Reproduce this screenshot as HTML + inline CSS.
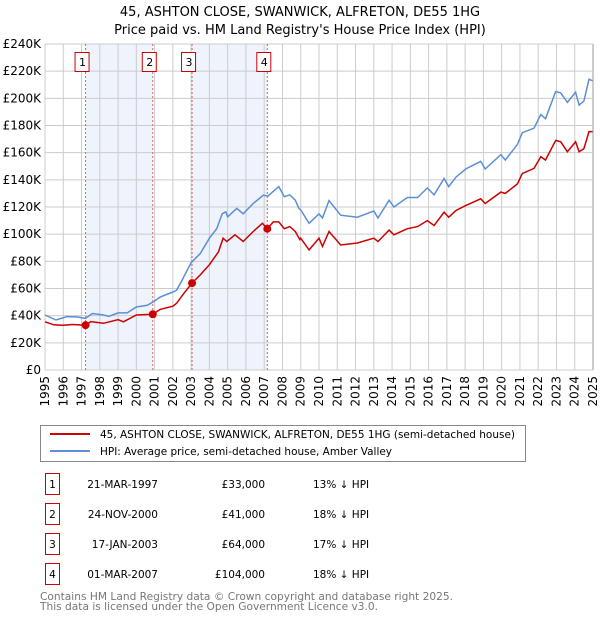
<!DOCTYPE html>
<html><head><meta charset="utf-8"><style>
body{margin:0;background:#fff;font-family:"DejaVu Sans","Liberation Sans",sans-serif;}
svg text{font-family:"DejaVu Sans","Liberation Sans",sans-serif;}
</style></head><body>
<svg id="c" width="600" height="620" xmlns="http://www.w3.org/2000/svg">
<text x="300" y="16" text-anchor="middle" font-size="13">45, ASHTON CLOSE, SWANWICK, ALFRETON, DE55 1HG</text>
<text x="300" y="34" text-anchor="middle" font-size="13">Price paid vs. HM Land Registry's House Price Index (HPI)</text>
<g id="plot"></g>
<g>
<rect x="40.5" y="425.5" width="485" height="36" fill="#fff" stroke="#888"/>
<line x1="50" y1="434" x2="90" y2="434" stroke="#cc0000" stroke-width="2"/>
<text x="100" y="438" font-size="10.5" textLength="415" lengthAdjust="spacingAndGlyphs">45, ASHTON CLOSE, SWANWICK, ALFRETON, DE55 1HG (semi-detached house)</text>
<line x1="50" y1="451" x2="90" y2="451" stroke="#5b8fd6" stroke-width="2"/>
<text x="100" y="455" font-size="10.5" textLength="292" lengthAdjust="spacingAndGlyphs">HPI: Average price, semi-detached house, Amber Valley</text>
</g>
<g id="table"></g>
<text x="40" y="600" font-size="11" fill="#777" textLength="413" lengthAdjust="spacingAndGlyphs">Contains HM Land Registry data © Crown copyright and database right 2025.</text>
<text x="40" y="610" font-size="11" fill="#777" textLength="338" lengthAdjust="spacingAndGlyphs">This data is licensed under the Open Government Licence v3.0.</text>
</svg>
<script>
const hpiYears=[1995.0,1995.6,1996.2,1996.8,1997.2,1997.6,1998.2,1998.5,1999.0,1999.5,2000.0,2000.6,2000.9,2001.3,2002.0,2002.2,2002.5,2003.0,2003.5,2004.0,2004.4,2004.7,2004.9,2005.0,2005.5,2005.85,2006.4,2006.95,2007.2,2007.8,2008.1,2008.4,2008.7,2008.9,2009.0,2009.46,2010.0,2010.19,2010.55,2011.19,2012.1,2013.0,2013.23,2013.84,2014.1,2014.84,2015.4,2015.93,2016.3,2016.85,2017.1,2017.5,2018.03,2018.85,2019.1,2019.95,2020.2,2020.86,2021.13,2021.77,2022.14,2022.4,2022.96,2023.23,2023.6,2024.05,2024.24,2024.5,2024.78,2024.97];
const hpiValues=[40.5,36.8,39.3,39,38,41.6,40.5,39.5,42,42,46.4,47.6,50,53.7,57.4,58.7,66,79,85.8,97,104,115,116.5,112.8,119,115,122.6,128.7,128,135,127.6,129,125,119,117.8,108,115,112,124.7,114,112.5,117,112,125,120,127,127,134,129,141,135,142,148,153.6,148,158.5,154.6,166,174.7,178,188,185,205,204,197,204.5,195,198,214,213];
const priceYears=[1995.0,1995.5,1996.0,1996.5,1997.22,1997.5,1998.2,1999.0,1999.3,2000.0,2000.9,2001.3,2002.0,2002.2,2002.6,2003.05,2003.5,2004.0,2004.5,2004.75,2004.95,2005.4,2005.85,2006.4,2006.9,2007.17,2007.5,2007.8,2008.1,2008.4,2008.7,2008.95,2009.0,2009.46,2010.0,2010.19,2010.55,2011.19,2012.1,2013.0,2013.23,2013.84,2014.1,2014.84,2015.4,2015.93,2016.3,2016.85,2017.1,2017.5,2018.03,2018.85,2019.1,2019.95,2020.2,2020.86,2021.13,2021.77,2022.14,2022.4,2022.96,2023.23,2023.6,2024.05,2024.24,2024.5,2024.78,2024.97];
const priceValues=[35.5,33.2,33,33.5,33,35.6,34.4,37,35.5,40.5,41,44.6,47,49,56.4,64,70,77.5,87,97,94.6,99.5,94.6,102,108,104,109,109,104,105.6,102,96,97,88.4,97,91,102,92,93.5,97,94.6,103,99.5,104,105.6,110,106.4,116.2,112.5,117.4,121,126,122.6,131,130,137,144.7,148.4,157,154.6,169,168,160.7,168,160.7,163,175.5,175.5];
const saleLabels=["1","2","3","4"];
const saleYears=[1997.22,2000.9,2003.05,2007.17];
const saleValues=[33,41,64,104];
const saleDates=["21-MAR-1997","24-NOV-2000","17-JAN-2003","01-MAR-2007"];
const salePrices=["£33,000","£41,000","£64,000","£104,000"];
const saleDiffs=["13% ↓ HPI","18% ↓ HPI","17% ↓ HPI","18% ↓ HPI"];
const yTicks=[0,20,40,60,80,100,120,140,160,180,200,220,240];
const yTickLabels=["£0","£20K","£40K","£60K","£80K","£100K","£120K","£140K","£160K","£180K","£200K","£220K","£240K"];
const xTicks=[1995,1996,1997,1998,1999,2000,2001,2002,2003,2004,2005,2006,2007,2008,2009,2010,2011,2012,2013,2014,2015,2016,2017,2018,2019,2020,2021,2022,2023,2024,2025];

const NS="http://www.w3.org/2000/svg";
const X0=45,X1=593,Y0=370,Y1=44;
function xs(y){return X0+(y-1995)/30*(X1-X0);}
function ys(v){return Y0-v/240*(Y0-Y1);}
function mk(tag,attrs,parent){const e=document.createElementNS(NS,tag);for(const k in attrs)e.setAttribute(k,attrs[k]);parent.appendChild(e);return e;}
const g=document.getElementById('plot');
for(let i=0;i<saleYears.length;i+=2){
 const b=mk('rect',{x:xs(saleYears[i]),y:Y1,width:xs(saleYears[i+1])-xs(saleYears[i]),height:Y0-Y1,fill:'#eef3fc'},g);
 
 
}
xTicks.forEach(t=>{
 const l=mk('line',{x1:xs(t),x2:xs(t),y1:Y1,y2:Y0,stroke:t===2025?'#999':'#ccc','stroke-width':1},g);
 
 
 const tx=mk('text',{x:0,y:0,'font-size':12,'text-anchor':'end',transform:`translate(${xs(t)+4},${Y0+6}) rotate(-90)`},g);
 tx.textContent=t;
 
 
});
yTicks.forEach((t,i)=>{
 const l=mk('line',{x1:X0,x2:X1,y1:ys(t),y2:ys(t),stroke:'#ccc','stroke-width':1},g);
 
 
 const tx=mk('text',{x:X0-4,y:ys(t)+4,'font-size':12,'text-anchor':'end'},g);
 tx.textContent=yTickLabels[i];
 
 
});
saleYears.forEach((y,i)=>{
 const l=mk('line',{x1:xs(y),x2:xs(y),y1:Y1,y2:Y0,stroke:'#e06060','stroke-width':1,'stroke-dasharray':'2,2'},g);
 
 
});
function path(xa,va,col,name){
 const d=xa.map((x,i)=>(i?'L':'M')+xs(x).toFixed(1)+','+ys(va[i]).toFixed(1)).join('');
 const p=mk('path',{d:d,fill:'none',stroke:col,'stroke-width':1.5},g);
 
 
}
path(hpiYears,hpiValues,'#5b8fd6','hpi-line');
path(priceYears,priceValues,'#cc0000','price-paid-line');
saleYears.forEach((y,i)=>{
 const c=mk('circle',{cx:xs(y),cy:ys(saleValues[i]),r:4,fill:'#cc0000'},g);
 
 
 const cx=xs(y)-3;
 const r=mk('rect',{x:cx-7.5,y:52.5,width:14,height:19,fill:'#fff',stroke:'#cc0000'},g);
 
 
 const t=mk('text',{x:cx,y:66,'font-size':11,'text-anchor':'middle'},g);
 t.textContent=saleLabels[i];
 
 
});
const tb=document.getElementById('table');
saleLabels.forEach((s,i)=>{
 const y=473+i*30;
 const r=mk('rect',{x:45.5,y:y+0.5,width:14,height:21,fill:'#fff',stroke:'#cc0000'},tb);
 
 
 const cells=[[52.5,s,'middle'],[158,saleDates[i],'end'],[265,salePrices[i],'end'],[313,saleDiffs[i],'start']];
 cells.forEach(c=>{
  const t=mk('text',{x:c[0],y:y+15,'font-size':10.5,'text-anchor':c[2]},tb);
  t.textContent=c[1];
  
  
 });
});
</script>
</body></html>
